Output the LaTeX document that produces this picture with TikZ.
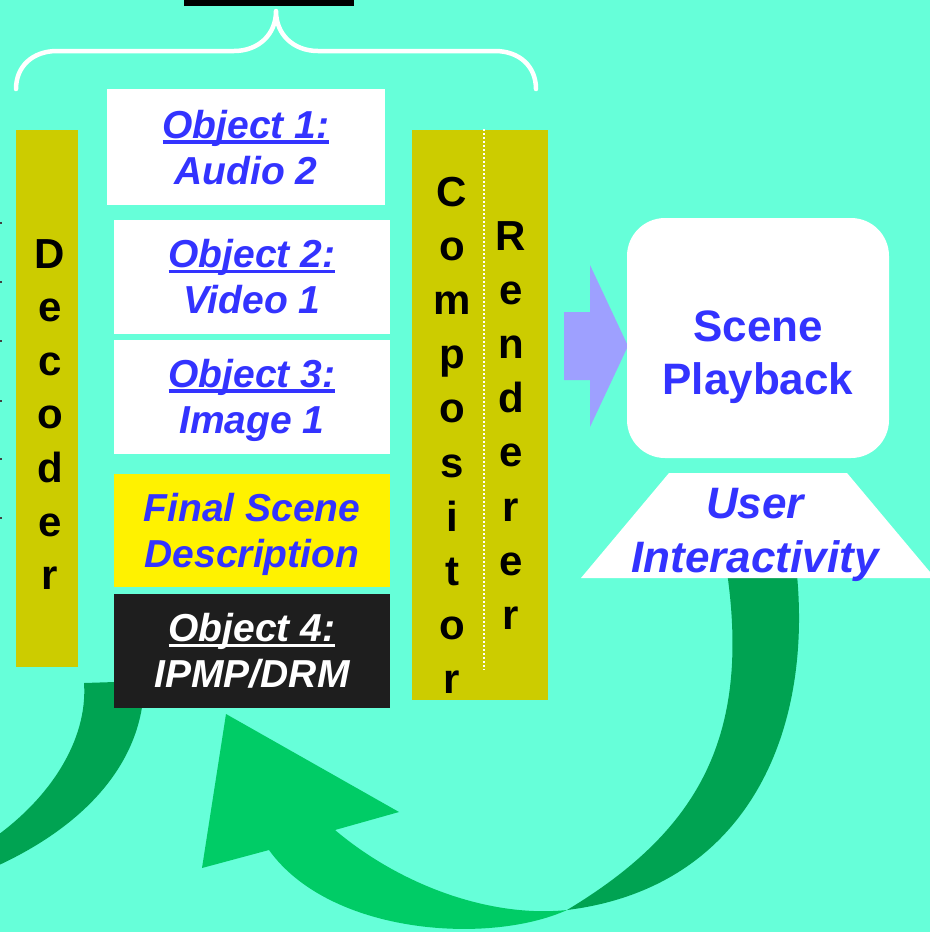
\documentclass[tikz,border=0pt]{standalone}
\usepackage{fontspec}
\setmainfont{Liberation Sans}
\definecolor{bgc}{RGB}{102,255,217}
\definecolor{olive}{RGB}{204,204,0}
\definecolor{txtblue}{RGB}{51,51,255}
\definecolor{boxblack}{RGB}{30,30,30}
\definecolor{lavender}{RGB}{158,160,255}
\definecolor{darkgreen}{RGB}{0,163,82}
\definecolor{lightgreen}{RGB}{0,204,102}
\begin{document}
\begin{tikzpicture}[x=1pt,y=-1pt,
  objbox/.style={rectangle,inner sep=0pt,outer sep=0pt,draw=none,minimum width=276pt,minimum height=114pt},
  lbl/.style={inner sep=0pt,outer sep=0pt,text=txtblue,font=\fontsize{39}{46}\selectfont\bfseries\itshape},
  big/.style={inner sep=0pt,outer sep=0pt,text=txtblue,font=\fontsize{44}{53}\selectfont\bfseries},
  barletter/.style={inner sep=0pt,outer sep=0pt,text=black,font=\fontsize{42}{50}\selectfont\bfseries},
  uline/.style={line width=3.5pt}
]
\useasboundingbox (0,0) rectangle (930,932);
\fill[bgc] (0,0) rectangle (930,932);
\begin{scope}
\clip (0,0) rectangle (930,932);

% top black bar
\fill[black] (184,0) rectangle (354,6);

% brace
\draw[white,line width=4.5pt,line cap=round,line join=round]
  (16,89) .. controls (16,66) and (33,51) .. (57,51) -- (234,51)
  .. controls (258,51) and (276,35) .. (276,11)
  .. controls (276,35) and (294,51) .. (318,51) -- (495,51)
  .. controls (519,51) and (536,66) .. (536,89);

% left edge dots
\foreach \yy in {222,281,340,400,458,517}
  \fill[black!75] (0,\yy) rectangle (2,\yy+2);

% green ribbons (behind boxes)
\fill[darkgreen] (84,683) -- (146,681) -- (143,700)
  .. controls (135,770) and (80,830) .. (-12,870)
  -- (-12,842)
  .. controls (50,800) and (88,740) .. (84,683) -- cycle;

\fill[darkgreen] (796,565)
  .. controls (815,735) and (745,888) .. (567,910)
  .. controls (700,830) and (752,735) .. (726,565) -- cycle;

\fill[lightgreen] (226,714) -- (399,812) -- (335,830)
  .. controls (400,885) and (490,918) .. (567,910)
  .. controls (490,945) and (330,935) .. (269,850)
  -- (202,868) -- cycle;

% decoder bar
\fill[olive] (16,130) rectangle (78,667);
\foreach \c [count=\i from 0] in {D,e,c,o,d,e,r}
  \node[barletter,anchor=base] (dec\i) at (50,{268+53.6*\i}) {\c};

% compositor / renderer bar
\fill[olive] (412,130) rectangle (548,700);
\coordinate (dtop) at (484,129);
\coordinate (dbot) at (484,670);
\draw[white,line width=1.6pt,dash pattern=on 2pt off 2pt] (dtop) -- (dbot);
\foreach \c [count=\i from 0] in {C,o,m,p,o,s,i,t,o,r}
  \node[barletter,anchor=base] (comp\i) at (452,{206+54.2*\i}) {\c};
\foreach \c [count=\i from 0] in {R,e,n,d,e,r,e,r}
  \node[barletter,anchor=base] (rend\i) at (511,{250+54.2*\i}) {\c};

% object boxes
\node[objbox,fill=white,minimum width=278pt,minimum height=116pt] (ob1) at (246,147) {};
\node[objbox,fill=white] (ob2) at (252,277) {};
\node[objbox,fill=white] (ob3) at (252,396.5) {};
\node[objbox,fill=yellow,minimum height=113pt] (fsd) at (252,530.5) {};
\node[objbox,fill=boxblack] (ob4) at (252,651) {};

\node[lbl,anchor=base] (t1a) at (246,138) {Object 1:};
\node[lbl,anchor=base] (t1b) at (246,184) {Audio 2};
\node[lbl,anchor=base] (t2a) at (252,267.5) {Object 2:};
\node[lbl,anchor=base] (t2b) at (252,313.5) {Video 1};
\node[lbl,anchor=base] (t3a) at (252,387) {Object 3:};
\node[lbl,anchor=base] (t3b) at (252,433) {Image 1};
\node[lbl,anchor=base] (tfa) at (252,521) {Final Scene};
\node[lbl,anchor=base] (tfb) at (252,567) {Description};
\node[lbl,anchor=base,text=white] (t4a) at (252,641.5) {Object 4:};
\node[lbl,anchor=base,text=white] (t4b) at (252,687.5) {IPMP/DRM};

\draw[uline,txtblue] ([yshift=-4pt]t1a.base west) -- ([yshift=-4pt]t1a.base east);
\draw[uline,txtblue] ([yshift=-4pt]t2a.base west) -- ([yshift=-4pt]t2a.base east);
\draw[uline,txtblue] ([yshift=-4pt]t3a.base west) -- ([yshift=-4pt]t3a.base east);
\draw[uline,white] ([yshift=-4pt]t4a.base west) -- ([yshift=-4pt]t4a.base east);

% lavender block arrow
\fill[lavender] (564,312) -- (590,312) -- (590,265) -- (628,346) -- (590,427) -- (590,380) -- (564,380) -- cycle;

% scene playback
\fill[white,rounded corners=38pt] (627,218) rectangle (889,458);
\node[big,anchor=base] (sp1) at (758,341) {Scene};
\node[big,anchor=base] (sp2) at (758,394) {Playback};

% user interactivity trapezoid
\fill[white] (669,473) -- (847,473) -- (935,578) -- (581,578) -- cycle;
\node[big,anchor=base,font=\fontsize{44}{53}\selectfont\bfseries\itshape] (ui1) at (755,518) {User};
\node[big,anchor=base,font=\fontsize{44}{53}\selectfont\bfseries\itshape] (ui2) at (755,572) {Interactivity};
\end{scope}
\end{tikzpicture}
\end{document}
